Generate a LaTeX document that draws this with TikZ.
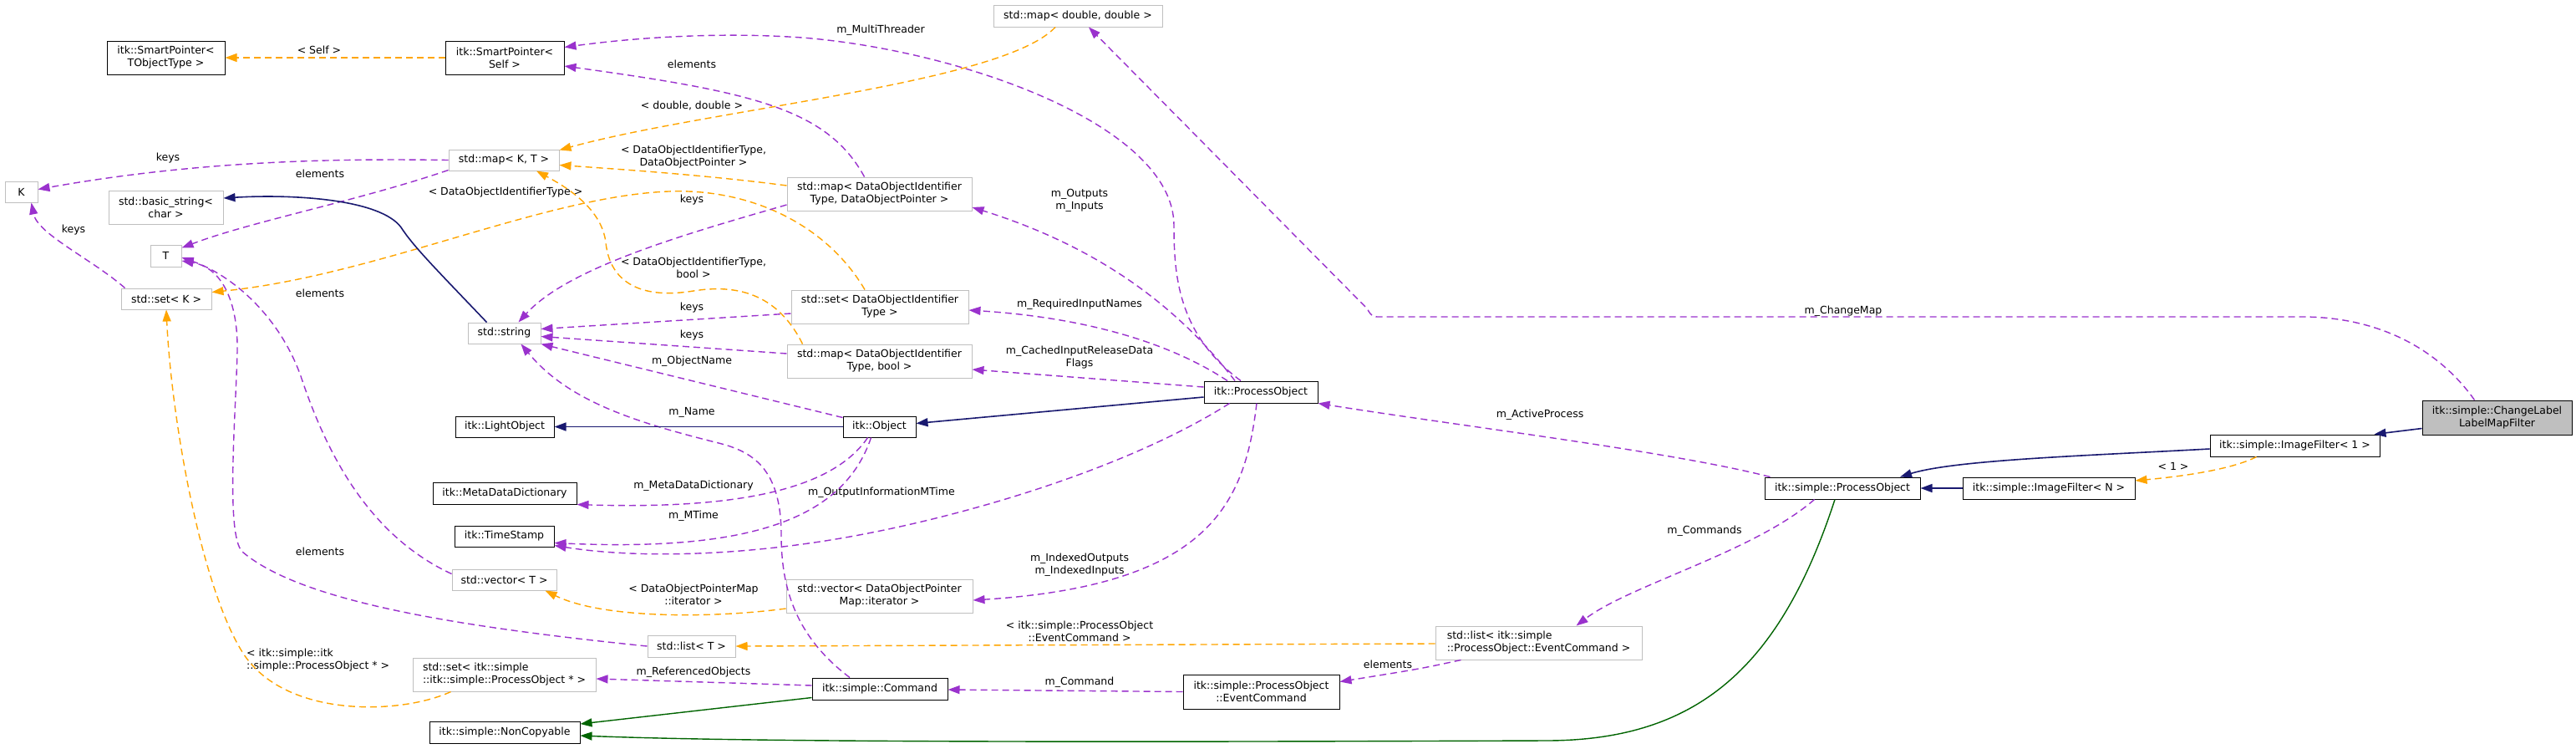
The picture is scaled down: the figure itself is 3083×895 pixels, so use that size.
\documentclass[tikz,border=0pt]{standalone}
\usepackage{fontspec}
\setmainfont{DejaVu Sans}
\usetikzlibrary{arrows.meta,calc}
\definecolor{cuse}{HTML}{9A32CD}
\definecolor{ctpl}{HTML}{FFA500}
\definecolor{cinh}{HTML}{191970}
\definecolor{cpriv}{HTML}{006400}
\definecolor{cgrayln}{HTML}{BFBFBF}
\definecolor{cfill}{HTML}{BFBFBF}
\begin{document}
\begin{tikzpicture}[x=1pt,y=-1pt,
  every node/.style={font=\fontsize{12.5}{15}\selectfont, inner sep=0pt},
  box/.style={draw, line width=1pt, fill=white, align=center},
  doc/.style={box, draw=black},
  undoc/.style={box, draw=cgrayln},
  lbl/.style={align=center, text=black},
  tip/.style={-{Triangle[length=14pt,width=10pt]}},
  use/.style={draw=cuse, line width=1.4pt, dash pattern=on 8pt off 5pt, tip},
  tpl/.style={draw=ctpl, line width=1.4pt, dash pattern=on 8pt off 5pt, tip},
  inh/.style={draw=cinh, line width=1.6pt, tip},
  prv/.style={draw=cpriv, line width=1.4pt, tip},
]
\useasboundingbox[fill=white] (0,0) rectangle (3083,895);

% nodes
\node[doc, minimum width=141pt, minimum height=40pt] (spT) at (198.5,69) {itk::SmartPointer<\\ TObjectType >};
\node[doc, minimum width=142pt, minimum height=40pt] (spS) at (604,69) {itk::SmartPointer<\\ Self >};
\node[undoc, minimum width=202pt, minimum height=26pt] (mapdd) at (1290,19) {std::map< double, double >};
\node[undoc, minimum width=39pt, minimum height=25pt] (K) at (25.5,229.5) {K};
\node[undoc, minimum width=132pt, minimum height=25pt] (mapKT) at (603,191.5) {std::map< K, T >};
\node[undoc, minimum width=137pt, minimum height=40pt] (bstr) at (198.5,248) {std::basic\_string<\\ char >};
\node[undoc, minimum width=37pt, minimum height=26pt] (T) at (198.5,306) {T};
\node[undoc, minimum width=108pt, minimum height=25pt] (setK) at (199,357.5) {std::set< K >};
\node[undoc, minimum width=221pt, minimum height=40pt] (mapDOP) at (1052.5,232) {std::map< DataObjectIdentifier\\ Type, DataObjectPointer >};
\node[undoc, minimum width=212pt, minimum height=40pt] (setDOIT) at (1053,367) {std::set< DataObjectIdentifier\\ Type >};
\node[undoc, minimum width=87pt, minimum height=25pt] (str) at (603.5,398.5) {std::string};
\node[undoc, minimum width=221pt, minimum height=40pt] (mapDOb) at (1052.5,432) {std::map< DataObjectIdentifier\\ Type, bool >};
\node[doc, minimum width=118pt, minimum height=25pt] (lobj) at (604,510.5) {itk::LightObject};
\node[doc, minimum width=87pt, minimum height=25pt] (obj) at (1052.5,510.5) {itk::Object};
\node[doc, minimum width=136pt, minimum height=26pt] (ipo) at (1509,469) {itk::ProcessObject};
\node[doc, minimum width=172pt, minimum height=26pt] (mdd) at (604,590) {itk::MetaDataDictionary};
\node[doc, minimum width=119pt, minimum height=25pt] (ts) at (603.5,641.5) {itk::TimeStamp};
\node[undoc, minimum width=125pt, minimum height=25pt] (vecT) at (603.5,693.5) {std::vector< T >};
\node[undoc, minimum width=223pt, minimum height=40pt] (vecDOP) at (1052.5,713) {std::vector< DataObjectPointer\\ Map::iterator >};
\node[undoc, minimum width=105pt, minimum height=26pt] (listT) at (827.5,773) {std::list< T >};
\node[undoc, align=left, minimum width=219pt, minimum height=40pt] (setPO) at (603.5,807) {std::set< itk::simple\\ ::itk::simple::ProcessObject * >};
\node[doc, minimum width=162pt, minimum height=26pt] (cmd) at (1053,824) {itk::simple::Command};
\node[doc, minimum width=180pt, minimum height=26pt] (noncp) at (604,876) {itk::simple::NonCopyable};
\node[doc, minimum width=187pt, minimum height=41pt] (evc) at (1509.5,827.5) {itk::simple::ProcessObject\\ ::EventCommand};
\node[undoc, align=left, minimum width=247pt, minimum height=40pt] (listEC) at (1841.5,769) {std::list< itk::simple\\ ::ProcessObject::EventCommand >};
\node[doc, minimum width=186pt, minimum height=26pt] (spo) at (2205,584) {itk::simple::ProcessObject};
\node[doc, minimum width=206pt, minimum height=26pt] (ifN) at (2452,584) {itk::simple::ImageFilter< N >};
\node[doc, minimum width=203pt, minimum height=26pt] (if1) at (2746.5,533) {itk::simple::ImageFilter< 1 >};
\node[doc, fill=cfill, minimum width=179pt, minimum height=41pt] (clf) at (2988.5,499.5) {itk::simple::ChangeLabel\\ LabelMapFilter};

% labels
\node[lbl] (lSelf) at (382,60) {< Self >};
\node[lbl] (lMT) at (1054,36) {m\_MultiThreader};
\node[lbl] (lel1) at (828,77) {elements};
\node[lbl] (ldd) at (828,126) {< double, double >};
\node[lbl] (lkeys1) at (201,189) {keys};
\node[lbl] (ldop) at (830,188) {< DataObjectIdentifierType,\\ DataObjectPointer >};
\node[lbl] (lel2) at (383,208) {elements};
\node[lbl] (ldoit) at (605,230) {< DataObjectIdentifierType >};
\node[lbl] (lkeys2) at (828,239) {keys};
\node[lbl] (lkeys3) at (88,275) {keys};
\node[lbl] (ldob) at (830,320) {< DataObjectIdentifierType,\\ bool >};
\node[lbl] (lel3) at (383,351) {elements};
\node[lbl] (lkeys4) at (828,368) {keys};
\node[lbl] (lkeys5) at (828,401) {keys};
\node[lbl] (lon) at (828,432) {m\_ObjectName};
\node[lbl] (lname) at (828,493) {m\_Name};
\node[lbl] (lmdd) at (830,581) {m\_MetaDataDictionary};
\node[lbl] (loim) at (1055,589) {m\_OutputInformationMTime};
\node[lbl] (lmt) at (830,617) {m\_MTime};
\node[lbl] (lel4) at (383,660) {elements};
\node[lbl] (ldpm) at (830,711) {< DataObjectPointerMap\\ ::iterator >};
\node[lbl, align=left, anchor=west] (lspo) at (295,790) {< itk::simple::itk\\ ::simple::ProcessObject * >};
\node[lbl] (lref) at (830,804) {m\_ReferencedObjects};
\node[lbl] (lout) at (1292,240) {m\_Outputs\\ m\_Inputs};
\node[lbl] (lreq) at (1292,364) {m\_RequiredInputNames};
\node[lbl] (lcache) at (1292,428) {m\_CachedInputReleaseData\\ Flags};
\node[lbl] (lidx) at (1292,676) {m\_IndexedOutputs\\ m\_IndexedInputs};
\node[lbl] (lec) at (1292,755) {< itk::simple::ProcessObject\\ ::EventCommand >};
\node[lbl] (lcmd) at (1292,816) {m\_Command};
\node[lbl] (lap) at (1843,496) {m\_ActiveProcess};
\node[lbl] (lcmds) at (2040,635) {m\_Commands};
\node[lbl] (lel5) at (1661,795) {elements};
\node[lbl] (lone) at (2601,558) {< 1 >};
\node[lbl] (lcm) at (2206,372) {m\_ChangeMap};

% edges
\draw[tpl] (spS.west) -- (spT.east);
\draw[use] ($(ipo.north)+(-24,0)$) .. controls (1410,400) and (1405,330) .. (1405,270) .. controls (1405,150) and (1150,60) .. (960,45) .. controls (860,38) and (760,45) .. ($(spS.north east)+(0,8)$);
\draw[use] ($(mapDOP.north)+(-18,0)$) .. controls (990,130) and (900,110) .. ($(spS.east)+(0,10)$);
\draw[use] (mapKT.west) .. controls (420,190) and (250,190) .. ($(K.east)+(0,-3)$);
\draw[use] ($(mapKT.south west)+(0,-1)$) .. controls (430,240) and (300,265) .. ($(T.north east)+(0,4)$);
\draw[use] ($(setK.north west)+(5,0)$) .. controls (110,310) and (45,280) .. ($(K.south)+(12,0)$);
\draw[use] ($(vecT.west)+(0,-7)$) .. controls (440,640) and (390,540) .. (360,450) .. controls (335,380) and (280,330) .. ($(T.east)+(0,2)$);
\draw[use] (listT.west) .. controls (550,750) and (360,720) .. (290,660) .. controls (270,640) and (282,500) .. (284,420) .. controls (285,360) and (265,320) .. ($(T.east)+(0,6)$);
\draw[tpl] ($(setPO.south west)+(46,0)$) .. controls (480,855) and (340,860) .. (290,780) .. controls (240,700) and (205,500) .. (setK.south);
\draw[tpl] ($(setDOIT.north)+(-18,0)$) .. controls (990,270) and (900,225) .. (800,229) .. controls (650,235) and (450,330) .. ($(setK.east)+(0,-8)$);
\draw[tpl] ($(mapdd.south)+(-27,0)$) .. controls (1200,100) and (850,130) .. ($(mapKT.north east)+(0,1)$);
\draw[tpl] ($(mapDOP.west)+(0,-10)$) .. controls (850,210) and (750,203) .. ($(mapKT.east)+(0,6)$);
\draw[tpl] ($(mapDOb.north)+(-92,0)$) .. controls (930,350) and (880,340) .. (830,348) .. controls (770,358) and (730,340) .. (725,290) .. controls (720,250) and (680,225) .. ($(mapKT.south)+(39,0)$);
\draw[use] ($(mapDOP.west)+(0,13)$) .. controls (820,280) and (680,320) .. ($(str.north)+(17,0)$);
\draw[use] ($(setDOIT.west)+(0,8)$) -- ($(str.east)+(0,-5)$);
\draw[use] ($(mapDOb.west)+(0,-9)$) -- ($(str.east)+(0,4)$);
\draw[use] ($(obj.north west)+(0,2)$) -- (str.south east);
\draw[use] ($(cmd.north)+(-36,0)$) .. controls (950,760) and (935,700) .. (935,640) .. controls (935,560) and (900,540) .. (860,530) .. controls (760,505) and (680,480) .. ($(str.south)+(20,0)$);
\draw[inh] ($(str.north)+(-21,0)$) .. controls (520,320) and (495,295) .. (480,272) .. controls (455,238) and (350,232) .. ($(bstr.east)+(0,-11)$);
\draw[inh] (obj.west) -- (lobj.east);
\draw[inh] ($(ipo.west)+(0,6)$) -- ($(obj.east)+(0,-4)$);
\draw[use] ($(obj.south)+(-14,0)$) .. controls (1000,580) and (900,610) .. (mdd.south east);
\draw[use] ($(obj.south)+(-10,0)$) .. controls (1010,620) and (900,660) .. ($(ts.east)+(0,8)$);
\draw[use] ($(ipo.south west)+(31,0)$) .. controls (1350,560) and (1150,620) .. (1000,645) .. controls (880,665) and (760,668) .. ($(ts.east)+(0,11)$);
\draw[use] ($(ipo.north)+(-31,0)$) .. controls (1420,380) and (1330,300) .. ($(mapDOP.east)+(0,16)$);
\draw[use] ($(ipo.north)+(-40,0)$) .. controls (1400,410) and (1300,380) .. ($(setDOIT.east)+(0,4)$);
\draw[use] ($(ipo.west)+(0,-6)$) -- ($(mapDOb.east)+(0,10)$);
\draw[use] ($(ipo.south)+(-5,0)$) .. controls (1490,600) and (1450,700) .. ($(vecDOP.east)+(0,5)$);
\draw[tpl] ($(vecDOP.west)+(0,15)$) .. controls (850,740) and (720,740) .. ($(vecT.south east)+(-14,0)$);
\draw[tpl] ($(listEC.west)+(0,1)$) -- (listT.east);
\draw[use] ($(cmd.west)+(0,-4)$) -- ($(setPO.east)+(0,5)$);
\draw[use] (evc.west) -- ($(cmd.east)+(0,1)$);
\draw[use] ($(listEC.south west)+(31,0)$) .. controls (1700,800) .. ($(evc.east)+(0,-12)$);
\draw[use] ($(spo.south west)+(60,0)$) .. controls (2100,660) and (1950,700) .. ($(listEC.north)+(45,0)$);
\draw[use] ($(spo.north west)+(7,0)$) .. controls (2000,540) and (1750,510) .. (ipo.south east);
\draw[prv] ($(cmd.south west)+(0,-3)$) -- ($(noncp.east)+(0,-10)$);
\draw[prv] ($(spo.south)+(-9,0)$) .. controls (2130,800) and (2030,886) .. (1850,886) .. controls (1300,888) and (900,888) .. ($(noncp.east)+(0,4)$);
\draw[inh] (ifN.west) -- (spo.east);
\draw[inh] ($(if1.west)+(0,4)$) .. controls (2500,545) and (2340,550) .. ($(spo.north)+(69,0)$);
\draw[tpl] ($(if1.south)+(-46,0)$) .. controls (2670,562) and (2610,570) .. ($(ifN.east)+(0,-9)$);
\draw[inh] ($(clf.west)+(0,13)$) -- ($(if1.north east)+(-7,0)$);
\draw[use] ($(clf.north)+(-27,0)$) .. controls (2920,420) and (2850,379) .. (2755,379) -- (1652,379) .. controls (1642,379) .. (1636,369) -- ($(mapdd.south)+(13,0)$);
\end{tikzpicture}
\end{document}
